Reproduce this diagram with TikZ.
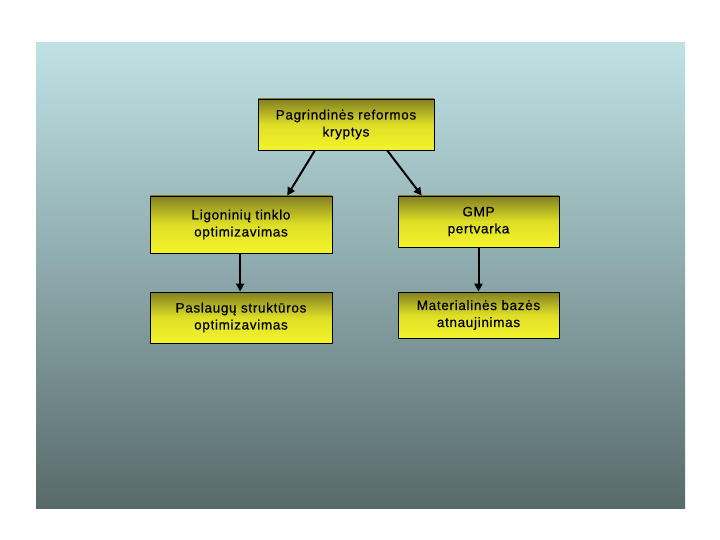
\documentclass[tikz,border=0pt]{standalone}
\usepackage{fontspec}
\setmainfont{Liberation Sans}[FakeBold=0.6]
\usetikzlibrary{calc,arrows.meta}
\definecolor{bgtop}{RGB}{192,226,229}
\definecolor{bgmid}{RGB}{140,168,170}
\definecolor{bgbot}{RGB}{88,106,106}
\definecolor{boxtop}{RGB}{130,128,34}
\definecolor{boxmid}{RGB}{222,222,38}
\definecolor{boxbot}{RGB}{244,244,44}
\tikzset{
  rbox/.style={draw=black, line width=0.8pt, rectangle, inner sep=0pt,
    top color=boxtop, bottom color=boxbot, middle color=boxmid,
    align=center, font=\fontsize{13.5}{17}\selectfont\addfontfeatures{LetterSpace=5}},
  conn/.style={draw=black, line width=2pt, -{Triangle[width=8pt,length=8pt]}}
}
\begin{document}
\begin{tikzpicture}[x=1pt,y=-1pt]
\useasboundingbox (0,0) rectangle (720,540);
\shade[top color=bgtop, bottom color=bgbot, middle color=bgmid] (36,43) rectangle (685,508);
\node[rbox, minimum width=176pt, minimum height=51pt] (top) at (346,124.5) {Pagrindinės reformos\\kryptys};
\node[rbox, minimum width=182pt, minimum height=57pt] (l1) at (241,224.5) {Ligoninių tinklo\\optimizavimas};
\node[rbox, minimum width=182pt, minimum height=51pt] (l2) at (241,317.5) {Paslaugų struktūros\\optimizavimas};
\node[rbox, minimum width=161pt, minimum height=51pt] (r1) at (478.5,221.5) {GMP\\pertvarka};
\node[rbox, minimum width=161pt, minimum height=46pt] (r2) at (478.5,315) {Materialinės bazės\\atnaujinimas};
\draw[conn] ($(top.south west)!0.324!(top.south east)$) -- ($(l1.north west)!0.753!(l1.north east)$);
\draw[conn] ($(top.south west)!0.733!(top.south east)$) -- ($(r1.north west)!0.149!(r1.north east)$);
\draw[conn] ($(l1.south west)!0.495!(l1.south east)$) -- ($(l2.north west)!0.495!(l2.north east)$);
\draw[conn] (r1.south) -- (r2.north);
\end{tikzpicture}
\end{document}
